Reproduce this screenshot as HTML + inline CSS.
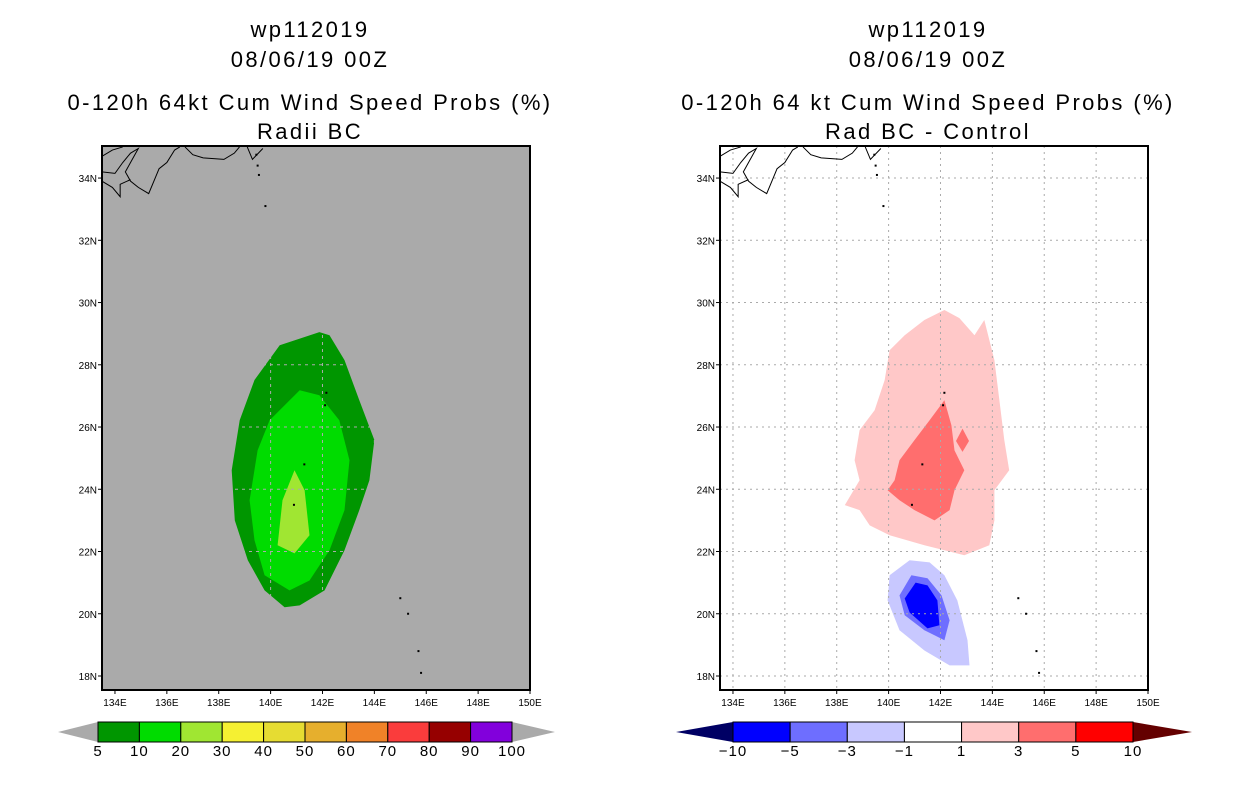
<!DOCTYPE html>
<html><head><meta charset="utf-8">
<style>
html,body{margin:0;padding:0;background:#fff;width:1236px;height:800px;overflow:hidden}
svg text{font-family:"Liberation Sans",sans-serif;fill:#000}
</style></head>
<body>
<svg id="fig" width="1236" height="800" viewBox="0 0 1236 800" xmlns="http://www.w3.org/2000/svg">
<g font-size="22" letter-spacing="2.4" text-anchor="middle">
<text x="310" y="37">wp112019</text>
<text x="310" y="67">08/06/19 00Z</text>
<text x="310" y="110">0-120h 64kt Cum Wind Speed Probs (%)</text>
<text x="310" y="139">Radii BC</text>
</g>
<g font-size="22" letter-spacing="2.4" text-anchor="middle">
<text x="928" y="37">wp112019</text>
<text x="928" y="67">08/06/19 00Z</text>
<text x="928" y="110">0-120h 64 kt Cum Wind Speed Probs (%)</text>
<text x="928" y="139">Rad BC - Control</text>
</g>
<g id="left"></g>
<g id="right"></g>
<g id="cbL"></g>
<g id="cbR"></g>
</svg>
<script>
const lonTicks=[134,136,138,140,142,144,146,148,150];
const latTicks=[18,20,22,24,26,28,30,32,34];
// left contours (lon,lat)
const prob5=[[141.88,29.05],[140.35,28.63],[139.38,27.51],[138.81,26.22],[138.5,24.61],[138.62,23.0],[139.12,21.72],[139.77,20.75],[140.54,20.21],[141.12,20.27],[142.08,20.75],[142.85,22.04],[143.42,23.33],[143.81,24.29],[144.0,25.58],[143.42,26.86],[142.85,28.15],[142.27,28.95]];
const prob10=[[141.12,27.18],[139.96,26.22],[139.5,25.25],[139.19,23.65],[139.38,22.36],[139.77,21.24],[140.73,20.75],[141.5,21.07],[142.27,22.04],[142.85,23.33],[143.04,24.93],[142.65,26.22],[141.88,27.02]];
const prob20=[[140.92,24.61],[140.46,23.65],[140.27,22.2],[140.92,21.94],[141.5,22.52],[141.31,23.97]];
// right contours
const diff1=[[140.04,28.47],[140.62,28.95],[141.38,29.44],[142.15,29.76],[142.73,29.5],[143.31,28.95],[143.69,29.44],[144.08,28.15],[144.27,26.86],[144.46,25.58],[144.65,24.61],[144.08,23.97],[144.08,23.0],[143.88,22.2],[142.92,21.88],[142.15,22.04],[141.38,22.2],[140.04,22.52],[139.27,22.84],[138.88,23.33],[138.31,23.49],[138.88,24.29],[138.69,24.93],[138.88,25.9],[139.46,26.54],[139.85,27.51]];
const diff3=[[142.15,26.86],[141.58,26.22],[141.0,25.58],[140.42,24.93],[140.23,24.29],[139.96,23.97],[140.42,23.65],[141.0,23.33],[141.77,23.0],[142.35,23.33],[142.54,23.97],[142.92,24.61],[142.54,25.25],[142.42,26.06]];
const diff3b=[[142.85,25.95],[143.1,25.55],[142.85,25.2],[142.6,25.55]];
const diffm1=[[140.81,21.72],[140.04,21.24],[139.96,20.43],[140.42,19.47],[141.38,18.82],[142.35,18.34],[143.12,18.34],[143.04,19.15],[142.65,20.43],[142.15,21.24],[141.58,21.65]];
const diffm3=[[140.88,21.24],[140.42,20.59],[140.62,19.95],[141.38,19.47],[142.15,19.15],[142.35,19.79],[142.04,20.59],[141.5,21.14]];
const diffm5=[[141.04,21.0],[140.62,20.49],[140.81,20.04],[141.5,19.53],[141.96,19.63],[141.88,20.43],[141.5,20.91]];
const coast=[[[133.5,34.7],[133.9,34.9],[134.3,35.0]],[[133.5,34.2],[134.0,34.15],[134.3,34.5],[134.6,34.8],[134.9,34.95],[134.6,34.5],[134.4,34.2],[134.6,33.9],[134.9,33.7],[135.3,33.5],[135.5,33.9],[135.7,34.3],[136.0,34.5],[136.3,34.9],[136.5,35.0]],[[133.5,33.9],[133.9,33.7],[134.2,33.4],[134.2,33.8],[134.6,33.95]],[[136.7,35.0],[137.0,34.75],[137.4,34.65],[138.2,34.6],[138.6,34.8],[138.8,35.0]],[[139.1,35.0],[139.3,34.6],[139.7,34.95]]];
const islands=[[139.45,34.75],[139.5,34.4],[139.55,34.1],[139.8,33.1],[142.15,27.1],[142.1,26.7],[141.3,24.8],[140.9,23.5],[145.0,20.5],[145.3,20.0],[145.7,18.8],[145.8,18.1]];
const NS="http://www.w3.org/2000/svg";
function mk(p,t,a){const e=document.createElementNS(NS,t);for(const k in a)e.setAttribute(k,a[k]);p.appendChild(e);return e;}
function map(gid,ox,fills,grid){
 const g=document.getElementById(gid);
 const X0=ox, X1=ox+428, Y0=146, Y1=690;
 const xs=lon=>X0+ (lon-133.5)/(150-133.5)*(X1-X0);
 const ys=lat=>Y0+(35.03-lat)/(35.03-17.55)*(Y1-Y0);
 const bg=mk(g,'rect',{x:X0,y:Y0,width:X1-X0,height:Y1-Y0,fill:grid?'#fff':'#aaaaaa'});
 
 
 fills.forEach(f=>{
  const p=mk(g,'polygon',{points:f.d.map(q=>xs(q[0]).toFixed(1)+','+ys(q[1]).toFixed(1)).join(' '),fill:f.c});
  
  
 });
 const gc='#aaaaaa';
 const da=grid?'2,4':'3,4';
 lonTicks.slice(0,-1).forEach(l=>{const ln=mk(g,'line',{x1:xs(l),x2:xs(l),y1:Y0,y2:Y1,stroke:gc,'stroke-dasharray':da,'stroke-width':1});
  });
 latTicks.forEach(l=>{const ln=mk(g,'line',{x1:X0,x2:X1,y1:ys(l),y2:ys(l),stroke:gc,'stroke-dasharray':da,'stroke-width':1});
  });
 coast.forEach(c=>{const pl=mk(g,'polyline',{points:c.map(q=>xs(q[0])+','+ys(q[1])).join(' '),fill:'none',stroke:'#000','stroke-width':1});
  });
 islands.forEach(q=>{const r=mk(g,'rect',{x:xs(q[0])-1,y:ys(q[1])-1,width:2,height:2,fill:'#000'});
  });
 const fr=mk(g,'rect',{x:X0,y:Y0,width:X1-X0,height:Y1-Y0,fill:'none',stroke:'#000','stroke-width':2});
 
 lonTicks.forEach(l=>{const x=xs(l);mk(g,'line',{x1:x,x2:x,y1:Y1,y2:Y1+4,stroke:'#000'});
  const t=mk(g,'text',{x:x,y:Y1+16,'font-size':10,'text-anchor':'middle'});t.textContent=l+'E';
  });
 latTicks.forEach(l=>{const y=ys(l);mk(g,'line',{x1:X0-4,x2:X0,y1:y,y2:y,stroke:'#000'});
  const t=mk(g,'text',{x:X0-5,y:y+4,'font-size':10,'text-anchor':'end'});t.textContent=l+'N';
  });
}
map('left',102,[{d:prob5,c:'#009600',n:'prob-5'},{d:prob10,c:'#00dc00',n:'prob-10'},{d:prob20,c:'#a0e632',n:'prob-20'}],false);
map('right',720,[{d:diff1,c:'#ffc8c8',n:'diff-1'},{d:diff3,c:'#ff6e6e',n:'diff-3'},{d:diff3b,c:'#ff6e6e',n:'diff-3b'},{d:diffm1,c:'#c8c8ff',n:'diff-m1'},{d:diffm3,c:'#6e6eff',n:'diff-m3'},{d:diffm5,c:'#0000ff',n:'diff-m5'}],true);
const cbLlabels=['5','10','20','30','40','50','60','70','80','90','100'];
const cbLcolors=['#009600','#00dc00','#a0e632','#f5f032','#e6dc32','#e6af2d','#f08228','#fa3c3c','#960000','#8200dc'];
const cbRlabels=['-10','-5','-3','-1','1','3','5','10'];
const cbRcolors=['#0000ff','#6e6eff','#c8c8ff','#ffffff','#ffc8c8','#ff6e6e','#ff0000'];
function cbar(gid,x0,x1,x2,x3,cols,labs,lc,rc){
 const g=document.getElementById(gid);const y0=722,y1=742,ym=732;
 const l=mk(g,'polygon',{points:`${x0},${ym} ${x1},${y0} ${x1},${y1}`,fill:lc});
 
 const r=mk(g,'polygon',{points:`${x3},${ym} ${x2},${y0} ${x2},${y1}`,fill:rc});
 
 const w=(x2-x1)/cols.length;
 cols.forEach((c,i)=>{const b=mk(g,'rect',{x:x1+i*w,y:y0,width:w,height:y1-y0,fill:c,stroke:'#000','stroke-width':1});
  });
 labs.forEach((s,i)=>{const t=mk(g,'text',{x:x1+i*w,y:756,'font-size':15,'letter-spacing':1,'text-anchor':'middle'});t.textContent=s.replace('-','\u2212');
  });
}
cbar('cbL',58,98,512,555,cbLcolors,cbLlabels,'#aaaaaa','#aaaaaa');
cbar('cbR',676,733,1133,1192,cbRcolors,cbRlabels,'#000064','#640000');
</script>
</body></html>
